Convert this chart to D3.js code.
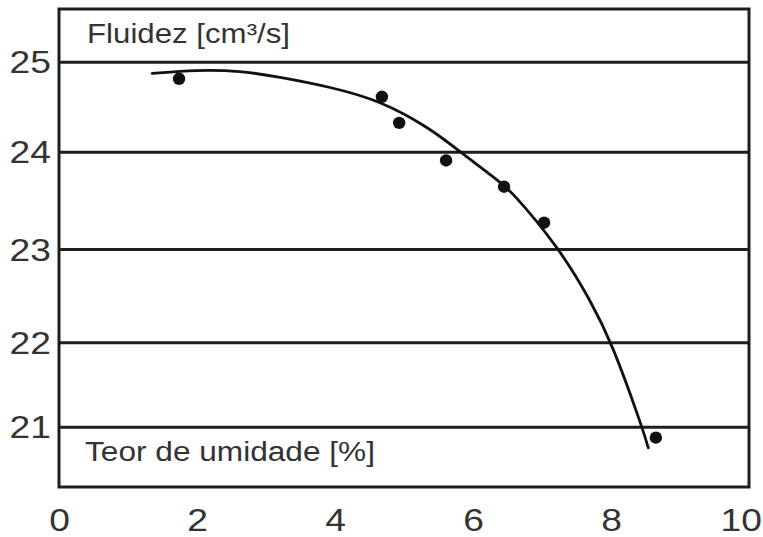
<!DOCTYPE html>
<html><head><meta charset="utf-8">
<script src="https://cdn.jsdelivr.net/npm/d3@7"></script>
<style>html,body{margin:0;padding:0;background:#fff;overflow:hidden}</style>
</head><body><svg id="c" width="763" height="537"></svg>
<script>
// ---- data ----
const yTicks = [21, 22, 23, 24, 25];
const xTicks = [0, 2, 4, 6, 8, 10];
const pointX = [1.74, 4.68, 4.93, 5.61, 6.45, 7.03, 8.65];
const pointY = [24.81, 24.61, 24.32, 23.91, 23.64, 23.27, 20.87];
const fitX = [1.35, 2.00, 2.62, 3.20, 3.93, 4.65, 5.38, 5.81, 6.35, 6.54, 7.26, 7.70, 8.01, 8.45, 8.54];
const fitY = [24.87, 24.91, 24.90, 24.83, 24.72, 24.57, 24.26, 24.00, 23.71, 23.61, 23.00, 22.45, 22.00, 21.00, 20.75];
const yLabel = "Fluidez [cm³/s]";
const xLabel = "Teor de umidade [%]";

// ---- layout ----
const W = 763, H = 537;
const L = 59, T = 9, R = 749, B = 487;
const ink = "#1e1e1e";
const font = "'Liberation Sans', Arial, Helvetica, sans-serif";
const stretch = 1.2;

const svg = d3.select("#c");
svg.append("rect").attr("width", W).attr("height", H).attr("fill", "#fff");

const x = d3.scaleLinear().domain([0, 10]).range([L, R]);
// the scanned figure has slightly uneven grid spacing; map each tick to its line
const y = d3.scaleLinear().domain(yTicks).range([426.7, 342.3, 249, 151.7, 61.7]);

// gridlines
const grid = svg.append("g").attr("transform", `translate(${L},0)`)
  .call(d3.axisLeft(y).tickValues(yTicks).tickSize(-(R - L)).tickFormat(""));
grid.select(".domain").remove();
grid.selectAll("line").attr("stroke", ink).attr("stroke-width", 3);

// frame
svg.append("rect").attr("x", L).attr("y", T).attr("width", R - L).attr("height", B - T)
  .attr("fill", "none").attr("stroke", ink).attr("stroke-width", 3);

// left tick labels
const ya = svg.append("g").attr("transform", `translate(${L},0)`)
  .call(d3.axisLeft(y).tickValues(yTicks).tickSize(0).tickPadding(0).tickFormat(d3.format("d")));
ya.select(".domain").remove();
ya.selectAll("text")
  .attr("font-family", font).attr("font-size", 31).attr("fill", "#333")
  .attr("text-anchor", "end")
  .attr("x", -8 / stretch).attr("dy", "0.36em")
  .attr("transform", `scale(${stretch},1)`);

// bottom tick labels
const xa = svg.append("g").attr("transform", `translate(0,${B})`)
  .call(d3.axisBottom(x).tickValues(xTicks).tickSize(0).tickPadding(22).tickFormat(d3.format("d")));
xa.select(".domain").remove();
xa.selectAll(".tick text")
  .attr("font-family", font).attr("font-size", 31).attr("fill", "#333")
  .attr("transform", `scale(${stretch},1)`)
  .each(function() {
    // keep the last label inside the window
    const r = this.getBoundingClientRect();
    const over = r.right - (W - 1);
    if (over > 0) d3.select(this).attr("x", -over / stretch);
  });

// axis titles inside the plot
svg.append("text").attr("x", 87).attr("y", 43)
  .attr("font-family", font).attr("font-size", 27).attr("fill", "#333")
  .attr("textLength", 203).attr("lengthAdjust", "spacingAndGlyphs")
  .text(yLabel);
svg.append("text").attr("x", 85).attr("y", 461)
  .attr("font-family", font).attr("font-size", 27).attr("fill", "#333")
  .attr("textLength", 290).attr("lengthAdjust", "spacingAndGlyphs")
  .text(xLabel);

// fitted curve
const fit = fitX.map((v, i) => [v, fitY[i]]);
svg.append("path").datum(fit)
  .attr("d", d3.line().x(d => x(d[0])).y(d => y(d[1])).curve(d3.curveBasis))
  .attr("fill", "none").attr("stroke", "#111").attr("stroke-width", 2.8).attr("stroke-linecap", "round");

// data points
const pts = pointX.map((v, i) => [v, pointY[i]]);
svg.append("g").selectAll("circle").data(pts).join("circle")
  .attr("cx", d => x(d[0])).attr("cy", d => y(d[1])).attr("r", 6.2)
  .attr("fill", "#111");
</script>
</body></html>
